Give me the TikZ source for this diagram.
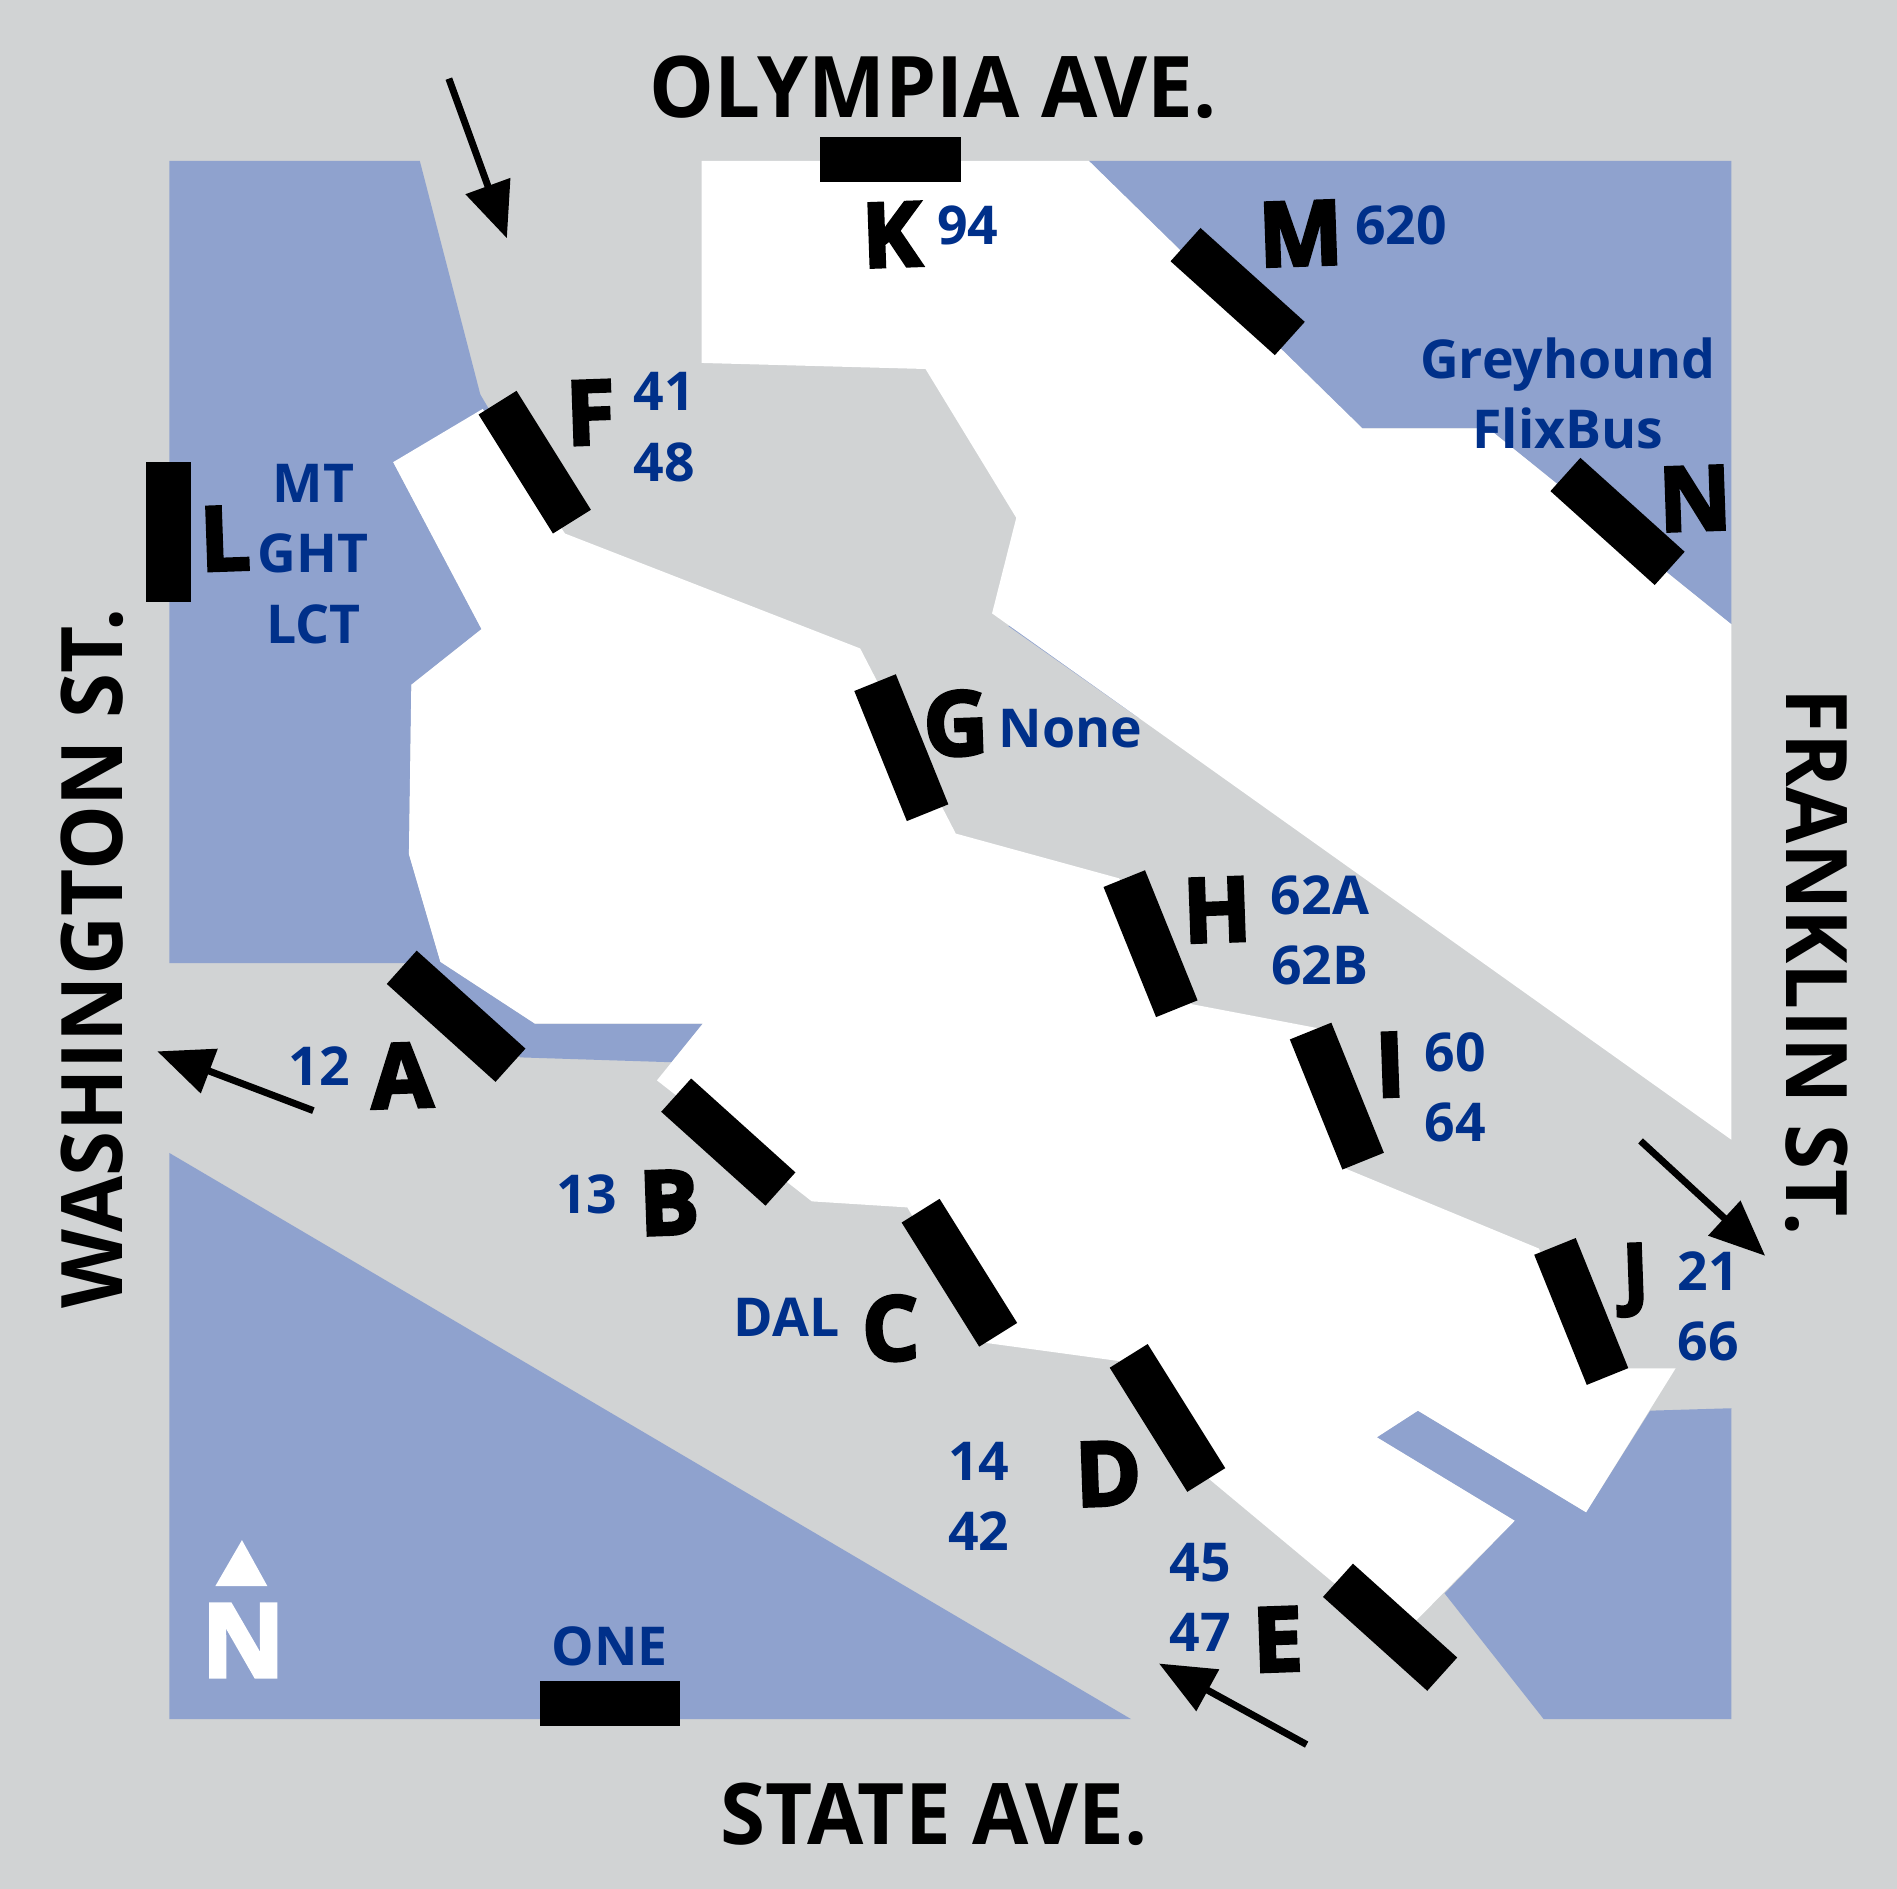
\documentclass[tikz,border=0pt]{standalone}
\usepackage{fontspec}
\setmainfont{Open Sans}
\newfontfamily\heavyfont[BoldFeatures={FakeBold=3.5}]{Open Sans}
\definecolor{roadgray}{HTML}{D1D3D4}
\definecolor{blockblue}{HTML}{8FA2CE}
\definecolor{routeblue}{HTML}{00308A}
\usetikzlibrary{arrows.meta}
\newcommand{\streettext}[1]{\scalebox{0.96}[1]{#1}}
\tikzset{
  x=0.02cm,y=-0.02cm,
  stopbar/.style={fill=black,draw=none,minimum width=2.32cm,minimum height=0.74cm,inner sep=0pt,outer sep=0pt},
  longbar/.style={stopbar,minimum width=2.42cm},
  letterlab/.style={font=\fontsize{42}{42}\heavyfont\bfseries,text=black,inner sep=0pt,rotate=2},
  routelab/.style={font=\fontsize{25.2}{33}\selectfont\bfseries,text=routeblue,inner sep=0pt,align=center},
  streetlab/.style={font=\fontsize{40}{40}\selectfont\bfseries,text=black,inner sep=0pt},
  walk/.style={draw=black,line width=0.115cm,-{Triangle[length=0.92cm,width=0.76cm]}},
}
\begin{document}
\begin{tikzpicture}
\useasboundingbox (0,0) rectangle (1568,1561);
\fill[roadgray] (0,0) rectangle (1568,1561);
% blue blocks
\fill[blockblue] (140,133)--(347,133)--(397,326)--(407,343)--(325,382)--(398,520)--(340,566)--(338,706)--(364,795)--(442,846)--(581,846)--(555,878)--(430,874)--(355,796)--(140,796)--cycle;
\fill[blockblue] (900,133)--(1431,133)--(1431,516)--(1230,354)--(1126,354)--cycle;
\fill[blockblue] (140,953)--(935,1421)--(140,1421)--cycle;
\fill[blockblue] (1431,1164)--(1364,1166)--(1311,1250)--(1172,1166)--(1138,1188)--(1252,1257)--(1194,1317)--(1276,1421)--(1431,1421)--cycle;
\draw[blockblue,line width=0.03cm] (834,517)--(942,593);
% white areas
\fill[white] (580,133)--(900,133)--(1126,354)--(1230,354)--(1431,516)--(1431,942)--(820,507)--(840,428)--(765,305)--(580,300)--cycle;
\fill[white] (325,382)--(399,338)--(467,441)--(711,536)--(790,689)--(925,726)--(985,830)--(1090,850)--(1110,965)--(1272,1032)--(1315,1131)--(1385,1131)--(1311,1250)--(1172,1166)--(1138,1188)--(1252,1257)--(1171,1339)--(1102,1308)--(1000,1223)--(925,1125)--(815,1110)--(750,998)--(671,993)--(543,893)--(581,846)--(442,846)--(364,795)--(338,706)--(340,566)--(398,520)--cycle;
% bars
\node[longbar,rotate=-42] (barA) at (377,840) {};
\node[stopbar,rotate=-42] (barB) at (602,944) {};
\node[longbar,rotate=-58] (barC) at (793,1052) {};
\node[longbar,rotate=-58] (barD) at (965,1172) {};
\node[stopbar,rotate=-42] (barE) at (1149,1345) {};
\node[stopbar,rotate=-58] (barF) at (442,382) {};
\node[stopbar,rotate=-68] (barG) at (745,618) {};
\node[stopbar,rotate=-68] (barH) at (951,780) {};
\node[stopbar,rotate=-68] (barI) at (1105,906) {};
\node[stopbar,rotate=-68] (barJ) at (1307,1084) {};
\node[stopbar] (barK) at (736,132) {};
\node[stopbar,rotate=90] (barL) at (139,440) {};
\node[stopbar,rotate=-42] (barM) at (1023,241) {};
\node[stopbar,rotate=-42] (barN) at (1337,431) {};
\node[stopbar] (barOne) at (504,1408) {};
% letters
\node[letterlab] (labA) at (332,889) {A};
\node[letterlab] (labB) at (553,994) {B};
\node[letterlab] (labC) at (736,1098) {C};
\node[letterlab] (labD) at (916,1218) {D};
\node[letterlab] (labE) at (1056,1355) {E};
\node[letterlab] (labF) at (488,341) {F};
\node[letterlab] (labG) at (790,598) {G};
\node[letterlab] (labH) at (1006,752) {H};
\node[letterlab] (labI) at (1149,880) {I};
\node[letterlab,font=\fontsize{37}{37}\heavyfont\bfseries] (labJ) at (1352,1058) {J};
\node[letterlab] (labK) at (737,194) {K};
\node[letterlab] (labL) at (186,445) {L};
\node[letterlab] (labM) at (1075,193) {M};
\node[letterlab] (labN) at (1401,412) {N};
% routes
\node[routelab] (rA) at (264,881) {12};
\node[routelab] (rB) at (485,987) {13};
\node[routelab] (rC) at (650,1089) {DAL};
\node[routelab] (rD) at (809,1237) {14\\42};
\node[routelab] (rE) at (992,1320) {45\\47};
\node[routelab] (rF) at (549,353) {41\\48};
\node[routelab] (rG) at (885,602) {None};
\node[routelab] (rH) at (1091,769) {62A\\62B};
\node[routelab] (rI) at (1203,899) {60\\64};
\node[routelab] (rJ) at (1412,1080) {21\\66};
\node[routelab] (rK) at (800,186) {94};
\node[routelab] (rL) at (259,458) {MT\\GHT\\LCT};
\node[routelab] (rM) at (1158,186) {620};
\node[routelab] (rN) at (1296,325) {Greyhound\\FlixBus};
\node[routelab] (rOne) at (504,1361) {ONE};
% streets
\node[streetlab] (olympia) at (771,72) {\streettext{OLYMPIA AVE.}};
\node[streetlab] (state) at (772,1500) {\streettext{STATE AVE.}};
\node[streetlab,rotate=90] (washington) at (76,792) {\streettext{WASHINGTON ST.}};
\node[streetlab,rotate=-90] (franklin) at (1502,795) {\streettext{FRANKLIN ST.}};
% walking arrows
\coordinate (a1s) at (371,65); \coordinate (a1e) at (419,197);
\coordinate (a2s) at (259,918); \coordinate (a2e) at (130,869);
\coordinate (a3s) at (1356,943); \coordinate (a3e) at (1459,1038);
\coordinate (a4s) at (1080,1442); \coordinate (a4e) at (958,1375);
\draw[walk] (a1s)--(a1e);
\draw[walk] (a2s)--(a2e);
\draw[walk] (a3s)--(a3e);
\draw[walk] (a4s)--(a4e);
% north
\fill[white] (200,1273)--(221,1311)--(178,1311)--cycle;
\node[font=\fontsize{48}{48}\heavyfont\bfseries,text=white,inner sep=0pt] (north) at (201,1356) {N};
\end{tikzpicture}
\end{document}
